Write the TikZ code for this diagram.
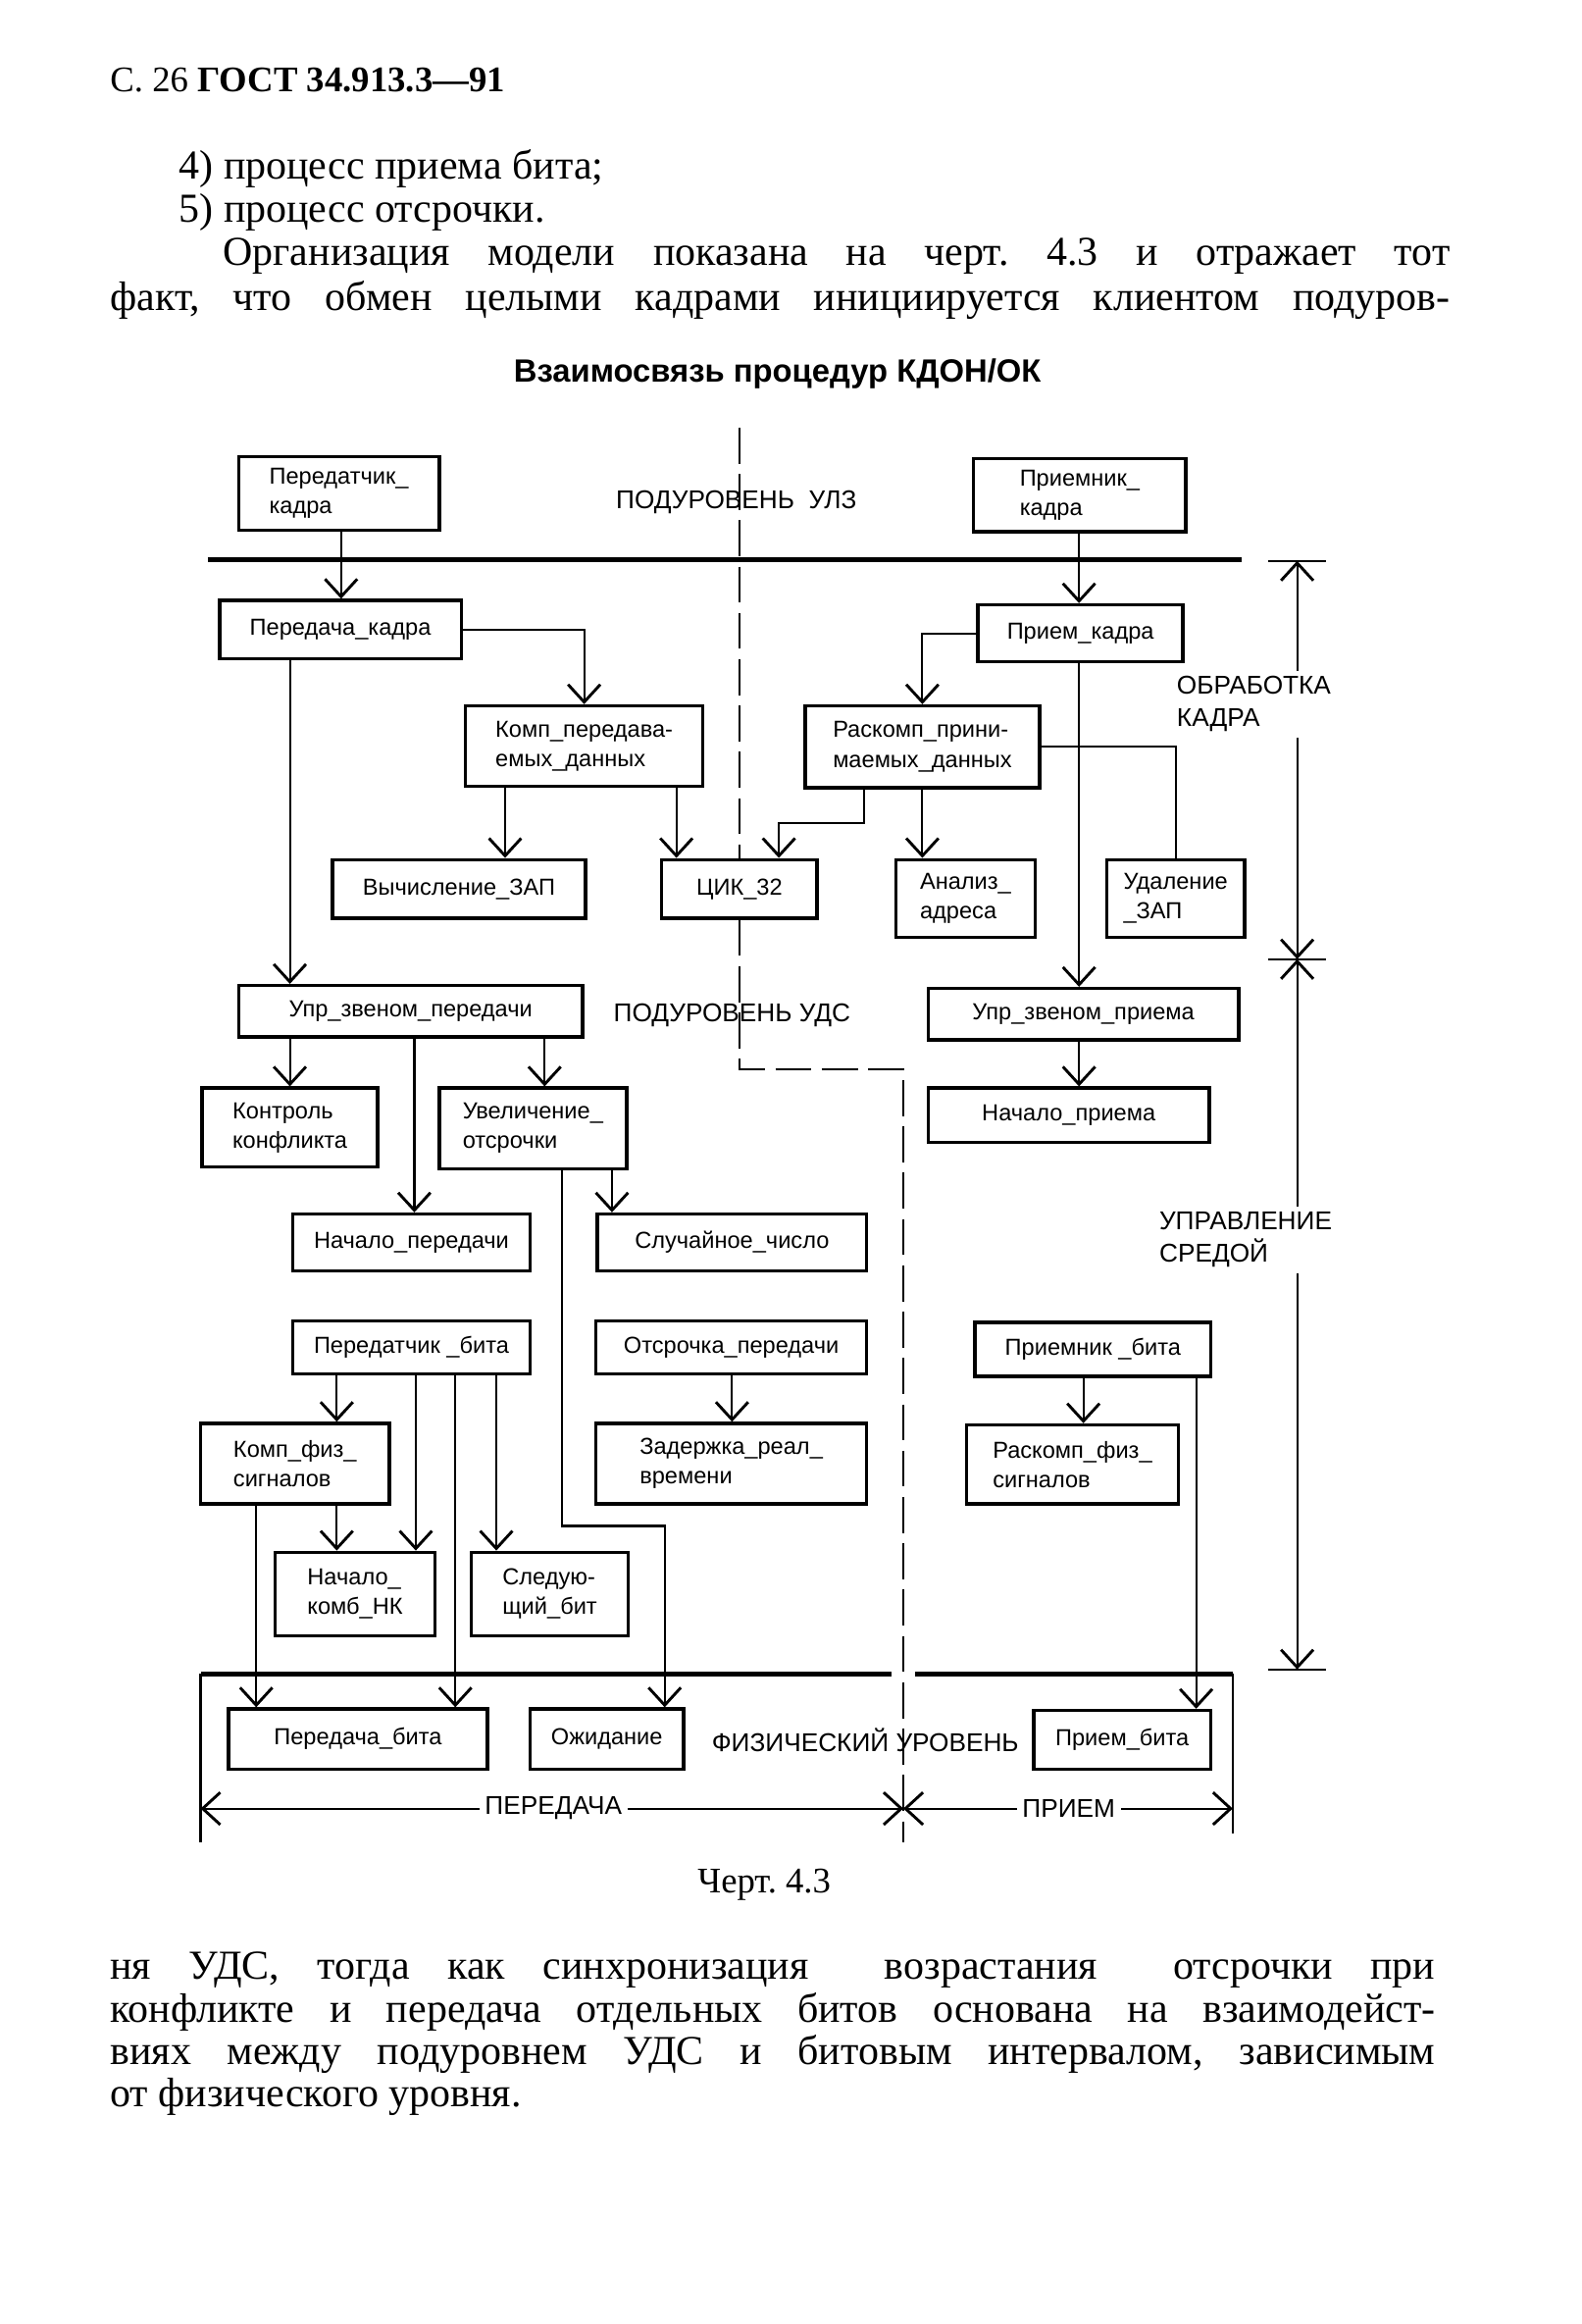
\documentclass[tikz,border=0pt]{standalone}
\usepackage{fontspec}
\setmainfont{Liberation Serif}
\setsansfont{Liberation Sans}
\usetikzlibrary{arrows.meta}
\frenchspacing

\tikzset{
  blk/.style={draw, line width=1.3pt, inner sep=2pt, align=left,
    font=\sffamily\fontsize{9}{11.5}\selectfont},
  sz/.style 2 args={minimum width=#1*0.2mm, minimum height=#2*0.2mm},
  lvl/.style={font=\sffamily\fontsize{10}{12.5}\selectfont, inner sep=2pt},
  conn/.style={line width=0.8pt},
  bnd/.style={line width=0.9pt, dash pattern=on 14pt off 4pt},
  bar/.style={line width=1.8pt},
  body/.style={anchor=west, inner sep=0pt, font=\fontsize{16}{19}\selectfont},
}

\begin{document}
\begin{tikzpicture}[x=0.2mm, y=-0.2mm,
    >={Straight Barb[length=2.4mm, width=4.4mm, line width=1.1pt]}]
  \useasboundingbox (0,0) rectangle (1080,1587);

  % page text above
  \node[body, font=\fontsize{14}{17}\selectfont] (hdr) at (75,55) {С. 26 \textbf{ГОСТ 34.913.3—91}};
  \node[body] (ln1) at (122,115) {4) процесс приема бита;};
  \node[body] (ln2) at (122,145) {5) процесс отсрочки.};
  \node[body] (ln3) at (152,175) {\makebox[167.6mm][s]{Организация модели показана на черт. 4.3 и отражает тот}};
  \node[body] (ln4) at (75,205) {\makebox[183mm][s]{факт, что обмен целыми кадрами инициируется клиентом подуров-}};
  \node[font=\sffamily\bfseries\fontsize{12.5}{15}\selectfont] (title) at (531,255) {Взаимосвязь процедур КДОН/ОК};

  % blocks
  \draw
    (231.5,337) node[blk, sz={137}{50}] (PK) {Передатчик\_\\кадра}
    (737.5,338) node[blk, sz={145}{50}] (RK) {Приемник\_\\кадра}
    (232.5,430) node[blk, sz={165}{40}] (PerK) {Передача\_кадра}
    (738,432.5) node[blk, sz={140}{39}] (PrK) {Прием\_кадра}
    (399,509.5) node[blk, sz={162}{55}] (KompPD) {Комп\_передава-\\емых\_данных}
    (630,510) node[blk, sz={160}{56}] (RaskPD) {Раскомп\_прини-\\маемых\_данных}
    (313.5,607) node[blk, sz={173}{40}] (VychZAP) {Вычисление\_ЗАП}
    (505,607) node[blk, sz={106}{40}] (CIK) {ЦИК\_32}
    (659.5,613.5) node[blk, sz={95}{53}] (Analiz) {Анализ\_\\адреса}
    (803,613.5) node[blk, sz={94}{53}] (Udal) {Удаление\\\_ЗАП}
    (280.5,690.5) node[blk, sz={235}{35}] (UprPer) {Упр\_звеном\_передачи}
    (740,692.5) node[blk, sz={212}{35}] (UprPri) {Упр\_звеном\_приема}
    (198,770) node[blk, sz={120}{54}] (Kontrol) {Контроль\\конфликта}
    (364,770.5) node[blk, sz={128}{55}] (Uvel) {Увеличение\_\\отсрочки}
    (730,761.5) node[blk, sz={192}{37}] (NachPri) {Начало\_приема}
    (281,848.5) node[blk, sz={162}{39}] (NachPer) {Начало\_передачи}
    (500,848.5) node[blk, sz={184}{39}] (Sluch) {Случайное\_число}
    (281,920) node[blk, sz={162}{36}] (PerBit) {Передатчик \_бита}
    (499.5,920) node[blk, sz={185}{36}] (Otsr) {Отсрочка\_передачи}
    (746.5,921.5) node[blk, sz={161}{37}] (PriBit) {Приемник \_бита}
    (201.5,999.5) node[blk, sz={129}{55}] (KompFiz) {Комп\_физ\_\\сигналов}
    (499.5,999.5) node[blk, sz={185}{55}] (Zader) {Задержка\_реал\_\\времени}
    (732.5,1000) node[blk, sz={145}{54}] (RaskFiz) {Раскомп\_физ\_\\сигналов}
    (242.5,1088.5) node[blk, sz={109}{57}] (NachKomb) {Начало\_\\комб\_НК}
    (375.5,1088.5) node[blk, sz={107}{57}] (Sled) {Следую-\\щий\_бит}
    (244.5,1187.5) node[blk, sz={177}{41}] (PerBita) {Передача\_бита}
    (414.5,1187.5) node[blk, sz={105}{41}] (Ozhid) {Ожидание}
    (766.5,1188) node[blk, sz={121}{40}] (PriemBita) {Прием\_бита};

  % levels
  \draw[bar] (142,382) -- (848,382);
  \draw[bar] (137,1143) -- (609,1143) (625,1143) -- (842,1143);
  \draw[conn] (137,1143) -- (137,1258);
  \draw[conn] (842,1143) -- (842,1252);
  \draw[bnd] (505,292) -- (CIK.north);
  \draw[bnd] (CIK.south) -- (505,730) -- (617,730) -- (617,1258);
  \node[lvl] (lvlUlz) at (503,343) {ПОДУРОВЕНЬ\ \ УЛЗ};
  \node[lvl] (lvlUds) at (500,693) {ПОДУРОВЕНЬ УДС};
  \node[lvl] (lvlFiz) at (591,1188) {ФИЗИЧЕСКИЙ УРОВЕНЬ};

  % connections
  \begin{scope}[->, conn]
    \draw (233,0 |- PK.south) -- (233,0 |- PerK.north);
    \draw (737,0 |- RK.south) -- (737,0 |- PrK.north);
    \draw (PerK.east) -| (KompPD.north);
    \draw (198,0 |- PerK.south) -- (198,0 |- UprPer.north);
    \draw (345,0 |- KompPD.south) -- (345,0 |- VychZAP.north);
    \draw (462,0 |- KompPD.south) -- (462,0 |- CIK.north);
    \draw (PrK.west) -| (RaskPD.north);
    \draw (737,0 |- PrK.south) -- (737,0 |- UprPri.north);
    \draw (590,0 |- RaskPD.south) |- (532,562) -- (532,0 |- CIK.north);
    \draw (RaskPD.south) -- (RaskPD.south |- Analiz.north);
    \draw (198,0 |- UprPer.south) -- (198,0 |- Kontrol.north);
    \draw (283,0 |- UprPer.south) -- (283,0 |- NachPer.north);
    \draw (372,0 |- UprPer.south) -- (372,0 |- Uvel.north);
    \draw (418,0 |- Uvel.south) -- (418,0 |- Sluch.north);
    \draw (384,0 |- Uvel.south) |- (454,1042) -- (454,0 |- Ozhid.north);
    \draw (737,0 |- UprPri.south) -- (737,0 |- NachPri.north);
    \draw (230,0 |- PerBit.south) -- (230,0 |- KompFiz.north);
    \draw (284,0 |- PerBit.south) -- (284,0 |- NachKomb.north);
    \draw (311,0 |- PerBit.south) -- (311,0 |- PerBita.north);
    \draw (339,0 |- PerBit.south) -- (339,0 |- Sled.north);
    \draw (230,0 |- KompFiz.south) -- (230,0 |- NachKomb.north);
    \draw (175,0 |- KompFiz.south) -- (175,0 |- PerBita.north);
    \draw (500,0 |- Otsr.south) -- (500,0 |- Zader.north);
    \draw (740,0 |- PriBit.south) -- (740,0 |- RaskFiz.north);
    \draw (817,0 |- PriBit.south) -- (817,0 |- PriemBita.north);
  \end{scope}
  \draw[conn] (RaskPD.east) -| (Udal.north);

  % dimension on the right
  \coordinate (dimT) at (886,383);
  \coordinate (dimM) at (886,655);
  \coordinate (dimB) at (886,1140);
  \node[lvl, align=left, anchor=north west] (lblObr) at (800,458) {ОБРАБОТКА\\КАДРА};
  \node[lvl, align=left, anchor=north west] (lblUpr) at (788,824) {УПРАВЛЕНИЕ\\СРЕДОЙ};
  \draw[conn] (dimT -| 866,0) -- (dimT -| 906,0);
  \draw[conn] (dimM -| 866,0) -- (dimM -| 906,0);
  \draw[conn] (dimB -| 866,0) -- (dimB -| 906,0);
  \begin{scope}[->, conn]
    \draw (lblObr.north -| dimT) -- (dimT);
    \draw (lblObr.south -| dimT) -- (dimM);
    \draw (lblUpr.north -| dimT) -- (dimM);
    \draw (lblUpr.south -| dimT) -- (dimB);
  \end{scope}

  % dimension at the bottom
  \coordinate (dimL) at (137,1235);
  \coordinate (dimC) at (617,1235);
  \coordinate (dimR) at (842,1235);
  \node[lvl] (lblPer) at (378,1235) {ПЕРЕДАЧА};
  \node[lvl] (lblPri) at (730,1235) {ПРИЕМ};
  \begin{scope}[conn]
    \draw[<-] (dimL) -- (lblPer.west);
    \draw[->] (lblPer.east) -- (dimC);
    \draw[<-] (dimC) -- (lblPri.west);
    \draw[->] (lblPri.east) -- (dimR);
  \end{scope}

  % page text below
  \node[font=\fontsize{14}{17}\selectfont] (cap) at (522,1287) {Черт. 4.3};
  \node[body] (ln5) at (75,1345) {\makebox[181mm][s]{ня УДС, тогда как синхронизация \ возрастания \ отсрочки при}};
  \node[body] (ln6) at (75,1374) {\makebox[181mm][s]{конфликте и передача отдельных битов основана на взаимодейст-}};
  \node[body] (ln7) at (75,1403) {\makebox[181mm][s]{виях между подуровнем УДС и битовым интервалом, зависимым}};
  \node[body] (ln8) at (75,1432) {от физического уровня.};
\end{tikzpicture}
\end{document}
